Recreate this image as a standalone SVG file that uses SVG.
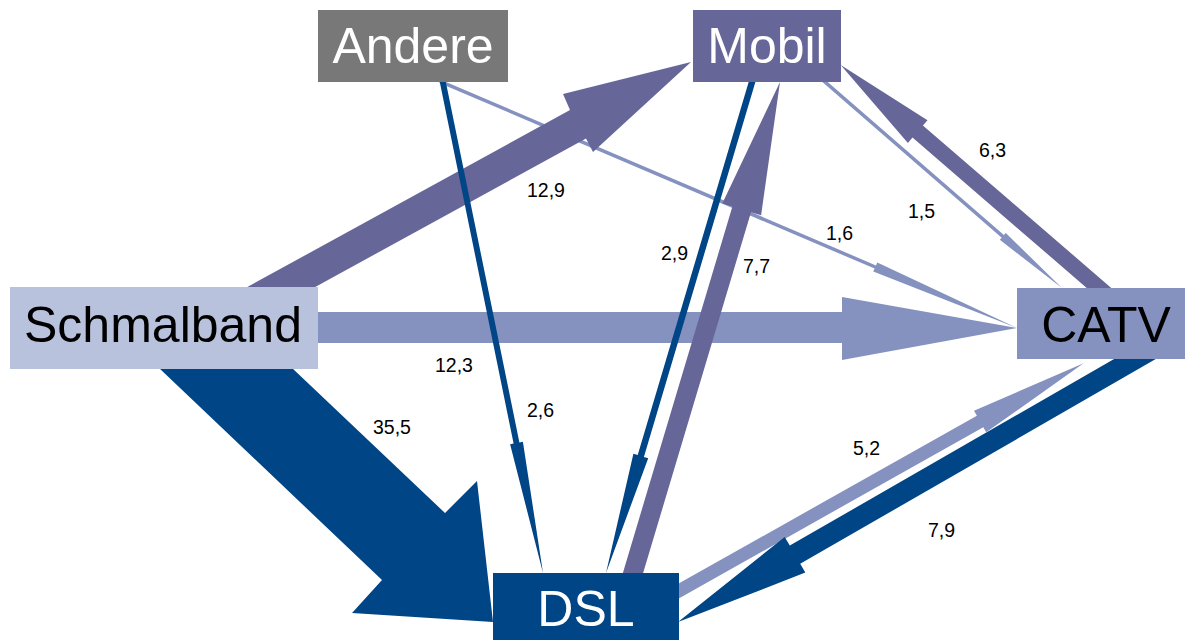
<svg xmlns="http://www.w3.org/2000/svg" width="1194" height="640" viewBox="0 0 1194 640">
  <style>
    .light { fill: #8592c0; }
    .purple { fill: #666699; }
    .dark { fill: #004586; }
    .node-text { font-family: "Liberation Sans", Arial, sans-serif; font-size: 50px; text-anchor: middle; }
    .lbl { font-family: "Liberation Sans", Arial, sans-serif; font-size: 19.5px; fill: #000000; }
  </style>
  <rect x="0" y="0" width="1194" height="640" fill="#ffffff"/>
  <g id="connectors">
    <!-- light (to CATV) -->
    <polygon class="light" points="440.7,79.7 876,265.4 877.3,262.4 1017,328 873.3,271.6 874.6,268.6 439.3,82.9"/>
    <polygon class="light" points="823.1,78.1 1003.9,235.1 1005.8,233 1062,288 999.8,239.8 1001.7,237.7 820.9,80.7"/>
    <polygon class="light" points="310,312 842,312 842,297 1017,328 842,360 842,343 310,343"/>
    <polygon class="light" points="665.3,591 976.9,415.8 974,410.7 1083.6,363.3 986.2,432.3 983.3,427.2 671.7,602.4"/>
    <!-- purple (to Mobil) -->
    <polygon class="purple" points="238.2,292 570,110 563,94 691,62 593,152 586,138.5 306.1,292"/>
    <polygon class="purple" points="621.6,577.2 732.4,206.6 722.3,203.6 780,82 761.1,215.2 751,212.2 640.2,582.8"/>
    <polygon class="purple" points="1113.3,289.7 922.9,125.5 927.5,120.2 840.7,65 907.9,142.9 912.5,137.6 1102.9,301.9"/>
    <!-- dark (to DSL) -->
    <polygon class="dark" points="444.3,74.6 519.4,442.4 522.9,441.7 543,573 510.1,444.3 513.6,443.6 438.5,75.8"/>
    <polygon class="dark" points="757.4,75.2 643.9,456.9 648.2,458.2 606,573 633.4,453.8 637.7,455.1 751.2,73.4"/>
    <polygon class="dark" points="152.7,362.1 382,580 352,613 493,622 477,481 445,513 285.7,362.1"/>
    <polygon class="dark" points="1147.1,339.9 789.8,545.6 784.7,536.9 678,622 805.3,572.6 800.2,563.8 1157.5,358.1"/>
    <!-- labels -->
    <text class="lbl" x="527" y="197">12,9</text>
    <text class="lbl" x="435" y="372">12,3</text>
    <text class="lbl" x="373" y="434">35,5</text>
    <text class="lbl" x="527" y="417">2,6</text>
    <text class="lbl" x="661" y="260">2,9</text>
    <text class="lbl" x="743" y="273">7,7</text>
    <text class="lbl" x="826" y="240">1,6</text>
    <text class="lbl" x="908" y="218">1,5</text>
    <text class="lbl" x="979" y="157">6,3</text>
    <text class="lbl" x="853" y="455">5,2</text>
    <text class="lbl" x="928" y="537">7,9</text>
  </g>
  <g id="node-andere">
    <rect x="318" y="10" width="190" height="72" fill="#787878"/>
    <text class="node-text" x="413" y="63" fill="#ffffff">Andere</text>
  </g>
  <g id="node-mobil">
    <rect x="693" y="10" width="148" height="72" fill="#666699"/>
    <text class="node-text" x="767" y="63" fill="#ffffff">Mobil</text>
  </g>
  <g id="node-schmalband">
    <rect x="10" y="287" width="308" height="82" fill="#b8c2dd"/>
    <text class="node-text" x="163" y="342" fill="#000000">Schmalband</text>
  </g>
  <g id="node-catv">
    <rect x="1017" y="288" width="168" height="71" fill="#8592c0"/>
    <text class="node-text" x="1106" y="342" fill="#000000">CATV</text>
  </g>
  <g id="node-dsl">
    <rect x="493" y="573" width="186" height="67" fill="#004586"/>
    <text class="node-text" x="586" y="626" fill="#ffffff">DSL</text>
  </g>
</svg>
